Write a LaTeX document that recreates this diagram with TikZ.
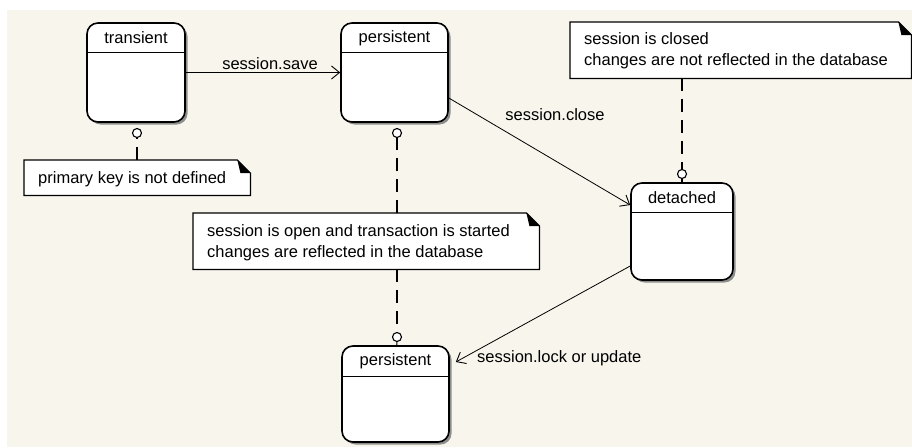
\documentclass[tikz,border=0pt]{standalone}
\usepackage{fontspec}
\setmainfont{Liberation Sans}
\usetikzlibrary{arrows.meta,shadows}
\definecolor{canvas}{RGB}{248,245,237}
\begin{document}
\begin{tikzpicture}[x=1pt,y=-1pt,
  font=\fontsize{16.5}{21}\selectfont,
  statebox/.style={draw=black, line width=1.6pt, fill=white, rounded corners=11pt,
    inner sep=0pt, drop shadow={shadow xshift=2.5pt, shadow yshift=-2.5pt, fill=black!55, opacity=0.8}},
  notebox/.style={inner sep=0pt, anchor=north west},
  noteline/.style={draw=black, line width=1.2pt, fill=white},
  pin/.style={circle, draw=black, line width=1.1pt, fill=white, minimum size=9pt, inner sep=0pt},
  anchorline/.style={line width=1.1pt, dash pattern=on 13pt off 8pt},
  trans/.style={line width=0.8pt, -{Straight Barb[length=8pt,width=13pt,line width=0.9pt]}},
  lbl/.style={inner sep=0pt}
]
% canvas
\useasboundingbox (0,0) rectangle (912,447);
\fill[white] (0,0) rectangle (912,447);
\fill[canvas] (7,10) rectangle (912,447);

% state boxes
\node[statebox, minimum width=98pt, minimum height=99pt] (transient) at (136,72.5) {};
\node[statebox, minimum width=107pt, minimum height=99pt] (persistA) at (394.5,72.5) {};
\node[statebox, minimum width=102pt, minimum height=97pt] (detached) at (682,231.5) {};
\node[statebox, minimum width=107pt, minimum height=96pt] (persistB) at (395.5,394) {};

% compartment separators and names
\foreach \s/\h in {transient/30, persistA/30, detached/30, persistB/31}{
  \draw[line width=1.2pt] ([yshift=-\h pt]\s.north west) -- ([yshift=-\h pt]\s.north east);
}
\node[lbl] (transientName) at (136,38) {transient};
\node[lbl] (persistAName) at (394.5,38) {persistent};
\node[lbl] (detachedName) at (682,198) {detached};
\node[lbl] (persistBName) at (395.5,361) {persistent};

% notes with folded corner
\node[notebox, minimum width=226pt, minimum height=35pt] (noteA) at (24,160) {};
\node[notebox, minimum width=341pt, minimum height=56pt] (noteB) at (570,22) {};
\node[notebox, minimum width=346pt, minimum height=56pt] (noteC) at (193,213) {};
\foreach \n in {noteA, noteB, noteC}{
  \draw[noteline] (\n.north west) -- ([xshift=-13pt]\n.north east)
    -- ([yshift=-13pt]\n.north east) -- (\n.south east) -- (\n.south west) -- cycle;
  \fill[black] ([xshift=-13pt]\n.north east) -- ([yshift=-13pt]\n.north east)
    -- ([xshift=-10pt,yshift=-13pt]\n.north east) -- cycle;
}
\node[lbl, anchor=west] (noteAText) at (38,179) {primary key is not defined};
\node[lbl, anchor=west, align=left] (noteBText) at (584,51) {session is closed\\changes are not reflected in the database};
\node[lbl, anchor=west, align=left] (noteCText) at (207,242.5) {session is open and transaction is started\\changes are reflected in the database};

% note attachments
\node[pin] (pinA) at (137,133) {};
\node[pin] (pinB) at (397,133) {};
\node[pin] (pinC) at (682,174) {};
\node[pin] (pinD) at (397,337) {};
\coordinate (noteAtop) at (137,160);
\coordinate (noteCtop) at (397,213);
\coordinate (noteCbot) at (397,269);
\coordinate (noteBbot) at (682,78);
\draw[anchorline] (noteAtop) -- (pinA);
\draw[anchorline] (noteCtop) -- (pinB);
\draw[anchorline] (noteCbot) -- (pinD);
\draw[anchorline] (noteBbot) -- (pinC);
\draw[line width=1.1pt] (pinD) -- (persistB);
\draw[line width=1.1pt] (pinC) -- (detached);

% transitions
\draw[trans] (transient) -- (persistA);
\draw[trans] ([yshift=-25.5pt]persistA.east) -- ([yshift=26.5pt]detached.west);
\draw[trans] ([yshift=-34.5pt]detached.west) -- ([xshift=6pt,yshift=32pt]persistB.east);
\node[lbl] (saveLbl) at (270,64) {session.save};
\node[lbl] (closeLbl) at (555,115) {session.close};
\node[lbl, anchor=west] (lockLbl) at (477,358) {session.lock or update};
\end{tikzpicture}
\end{document}
